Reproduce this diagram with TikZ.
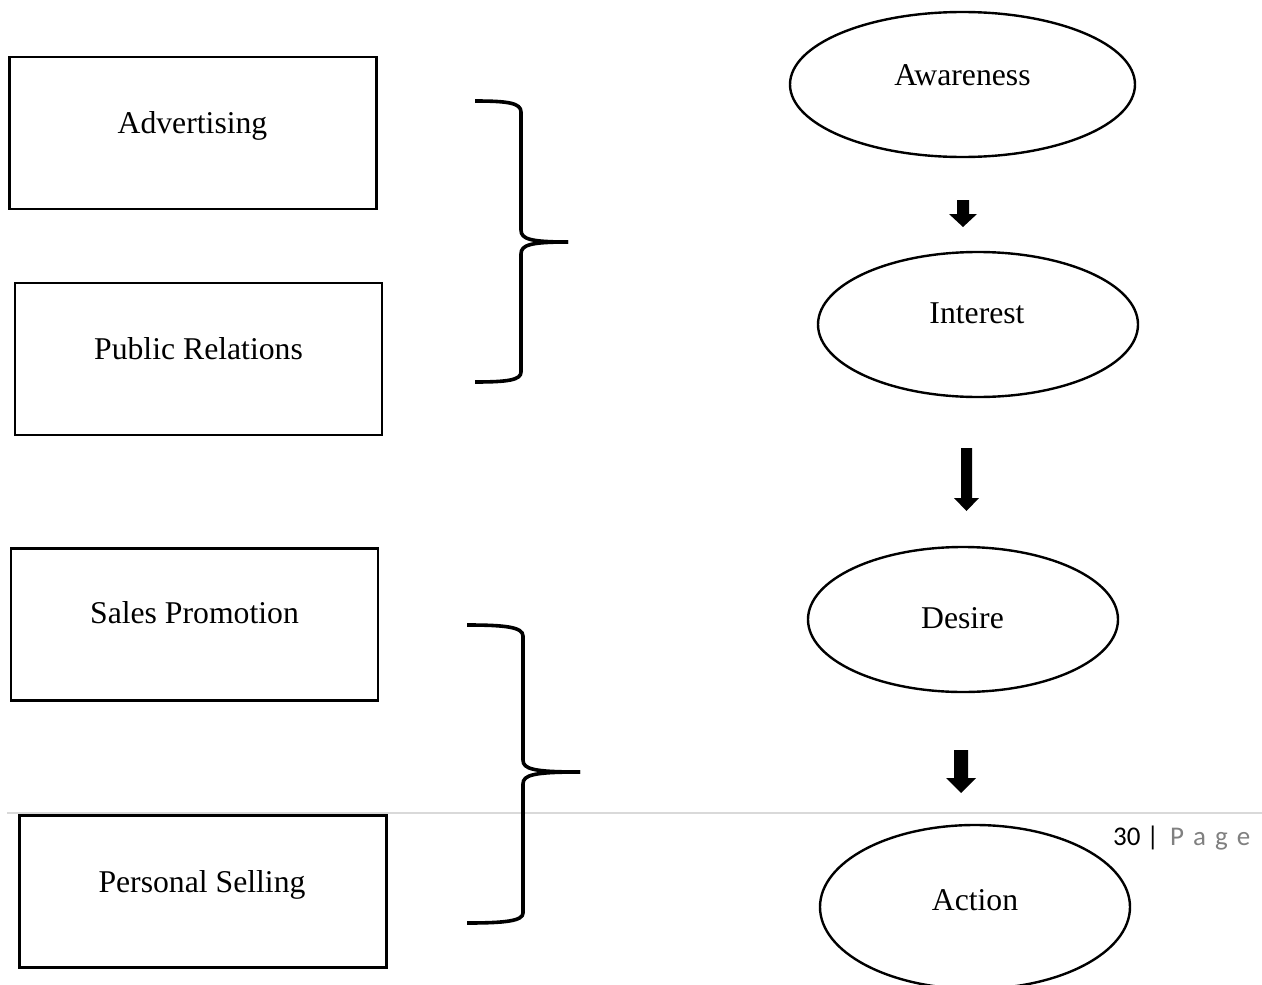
\documentclass[tikz,border=0pt]{standalone}
\usepackage{fontspec}
\setmainfont{Liberation Serif}
\newfontfamily\footfont{Carlito}
\usetikzlibrary{shapes.geometric}
\definecolor{rulegray}{HTML}{D9D9D9}
\definecolor{pagegray}{HTML}{808080}
\tikzset{
  box/.style={draw, line width=2.6pt, inner sep=0pt, minimum width=367pt, minimum height=152pt},
  ellip/.style={draw, ellipse, line width=2.4pt, inner sep=0pt},
  lbl/.style={anchor=base, inner sep=0pt, font=\fontsize{31.7}{38}\selectfont},
  bracepath/.style={draw, line width=3.6pt, line cap=butt},
  blockarr/.style={fill=black},
  foot/.style={anchor=base west, inner sep=0pt, font=\footfont\fontsize{27}{32}\selectfont},
}
\newcommand\blkarrow[6]{% cx, shaft half width, head half width, top, head start, tip
  \fill[blockarr] ({#1-#2},#4) -- ({#1+#2},#4) -- ({#1+#2},#5) -- ({#1+#3},#5) -- (#1,#6) -- ({#1-#3},#5) -- ({#1-#2},#5) -- cycle;}
\begin{document}
\begin{tikzpicture}[x=1pt,y=-1pt]
\useasboundingbox (0,0) rectangle (1262,985);
\clip (0,0) rectangle (1262,985);
\fill[white] (0,0) rectangle (1262,985);

% footer rule
\coordinate (rl) at (7,813);
\coordinate (rr) at (1262,813);
\draw[rulegray, line width=1.8pt] (rl) -- (rr);

% boxes
\node[box] (adv) at (193,133) {};
\node[lbl] (advt) at (192.5,133) {Advertising};
\node[box] (pr) at (198.5,359) {};
\node[lbl] (prt) at (198.5,359) {Public Relations};
\node[box] (sp) at (194.5,624.5) {};
\node[lbl] (spt) at (194.5,623) {Sales Promotion};
\node[box] (ps) at (203,891.5) {};
\node[lbl] (pst) at (202,892) {Personal Selling};

% braces
\coordinate (b1t) at (475,101);
\coordinate (b1m) at (568,242);
\coordinate (b1b) at (475,382);
\draw[bracepath] (b1t) .. controls (508,101) and (521,103) .. (521,112) -- (521,230)
   .. controls (521,239) and (530,242) .. (b1m);
\draw[bracepath] (b1m) .. controls (530,242) and (521,245) .. (521,254) -- (521,372)
   .. controls (521,380) and (508,382) .. (b1b);
\coordinate (b2t) at (467,625);
\coordinate (b2m) at (580,772);
\coordinate (b2b) at (467,923);
\draw[bracepath] (b2t) .. controls (505,625) and (523,627) .. (523,636) -- (523,760)
   .. controls (523,769) and (533,772) .. (b2m);
\draw[bracepath] (b2m) .. controls (533,772) and (523,775) .. (523,784) -- (523,913)
   .. controls (523,921) and (505,923) .. (b2b);

% ellipses
\node[ellip, minimum width=345pt, minimum height=145pt] (aw) at (962.5,84.5) {};
\node[lbl] (awt) at (962.5,85) {Awareness};
\node[ellip, minimum width=320pt, minimum height=145pt] (in) at (978,324.5) {};
\node[lbl] (int) at (977,323) {Interest};
\node[ellip, minimum width=310pt, minimum height=145pt] (de) at (963,619.5) {};
\node[lbl] (det) at (962.5,628) {Desire};
\node[ellip, minimum width=310pt, minimum height=164pt] (ac) at (975,907) {};
\node[lbl] (act) at (975,910) {Action};

% block arrows
\blkarrow{963}{6}{14}{200}{214}{227}
\blkarrow{966.5}{5.5}{12.5}{448}{498}{511}
\blkarrow{961}{7}{15}{750}{778}{793}

% page footer
\node[foot] (pgn) at (1113,845) {30 |};
\node[foot, text=pagegray] (pgw) at (1170,845) {\spaceskip=9pt P a g e};
\end{tikzpicture}
\end{document}
